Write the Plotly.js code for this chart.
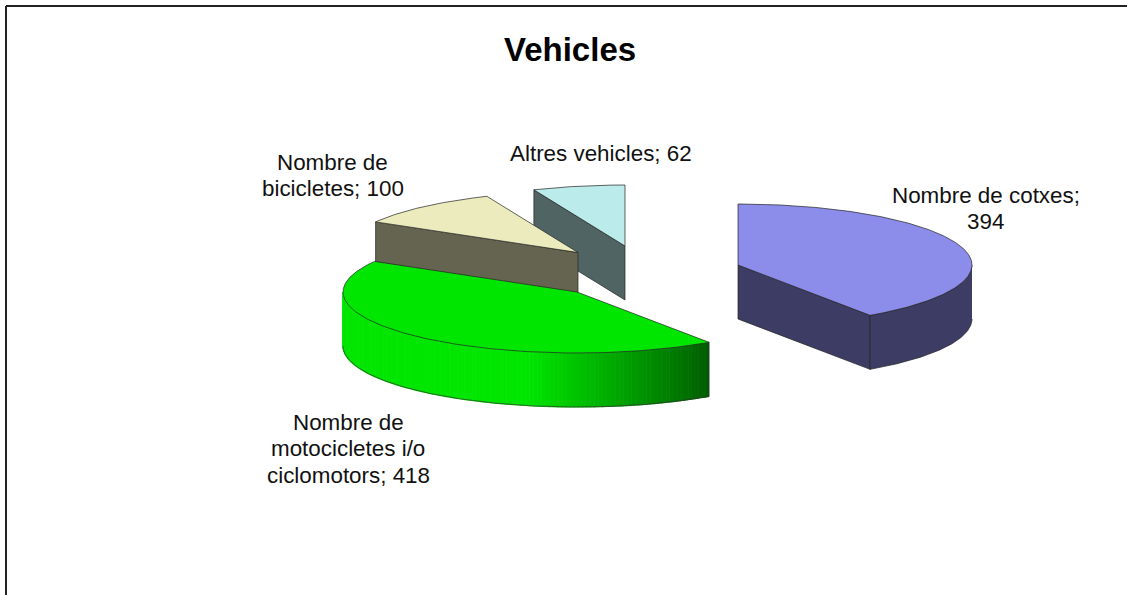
<!DOCTYPE html>
<html><head><meta charset="utf-8">
<script src="https://cdn.plot.ly/plotly-3.0.1.min.js"></script>
<style>html,body{margin:0;padding:0;background:#fff}#c{width:1127px;height:595px}</style>
</head><body><div id="c"></div>
<script>
// Data
var categories = ["Nombre de cotxes", "Nombre de motocicletes i/o ciclomotors", "Nombre de bicicletes", "Altres vehicles"];
var values = [394, 418, 100, 62];
var labelLines = [["Nombre de cotxes;", "394"], ["Nombre de", "motocicletes i/o", "ciclomotors; 418"], ["Nombre de", "bicicletes; 100"], ["Altres vehicles; 62"]];
var topColors = ["#8c8ceb", "#00e600", "#ebebbe", "#bcebeb"];
var sideColors = ["#3c3c64", "#00e600", "#646450", "#506464"];
var chartTitle = "Vehicles";

// Layout of the drawing (projected pie on pixel-scaled axes)
var rx = 234, ry = 61, depth = 54;
var centers = [[738, 265], [577, 292], [578, 252.5], [625, 246]];
var labelPos = [[985.5, 195], [348, 422], [332.5, 162], [601, 153]];
var lineGap = 26.5;
var fontFamily = "Liberation Sans, Arial, sans-serif";

var total = values.reduce(function (a, b) { return a + b; }, 0);
var traces = [];
// angle measured clockwise from 12 o'clock, screen y grows downward
function pt(c, deg, dz) {
  var r = deg * Math.PI / 180;
  return [c[0] + rx * Math.sin(r), c[1] - ry * Math.cos(r) + (dz || 0)];
}
function poly(pts, fill, line, width) {
  traces.push({
    type: "scatter", mode: "lines", x: pts.map(function (p) { return p[0]; }), y: pts.map(function (p) { return p[1]; }),
    fill: "toself", fillcolor: fill, line: { color: line || "#222", width: width || 0.7 }, hoverinfo: "skip", showlegend: false
  });
}
function stroke(pts) {
  traces.push({
    type: "scatter", mode: "lines", x: pts.map(function (p) { return p[0]; }), y: pts.map(function (p) { return p[1]; }),
    line: { color: "#333", width: 0.7 }, hoverinfo: "skip", showlegend: false
  });
}
function arc(c, a0, a1, dz) {
  var out = [], n = Math.max(2, Math.ceil(Math.abs(a1 - a0) * 2));
  for (var i = 0; i <= n; i++) out.push(pt(c, a0 + (a1 - a0) * i / n, dz));
  return out;
}
// Wall shading: dark green at the right cut, full green from the middle of the wall leftwards
function wallGreen(x, xRight) {
  var f = Math.min(1, (xRight - x) / 180);
  return "rgb(0," + Math.round(92 + 138 * Math.pow(f, 0.9)) + ",0)";
}
var angles = [], acc = 0;
values.forEach(function (v) { angles.push([acc, acc + v / total * 360]); acc += v / total * 360; });

// Painter's order: back slices first
[3, 2, 0, 1].forEach(function (i) {
  var c = centers[i], a0 = angles[i][0], a1 = angles[i][1];
  if (i === 3 || i === 2) { // cut wall facing the viewer
    poly([c, pt(c, a0), pt(c, a0, depth), [c[0], c[1] + depth], c], sideColors[i]);
  }
  if (i === 0) {
    poly([c, pt(c, a1), pt(c, a1, depth), [c[0], c[1] + depth], c], sideColors[i]);
    poly(arc(c, 90, a1).concat(arc(c, a1, 90, depth)), sideColors[i]);
  }
  if (i === 1) {
    var step = 1, xRight = pt(c, a0)[0];
    for (var a = a0; a < 270; a += step) {
      var b = Math.min(a + step, 270);
      var col = wallGreen(pt(c, a)[0], xRight);
      poly(arc(c, a, b).concat(arc(c, b, a, depth)), col, col, 1.2);
    }
    stroke(arc(c, a0, 270, depth));
    stroke([pt(c, a0), pt(c, a0, depth)]);
  }
  poly([c].concat(arc(c, a0, a1)).concat([c]), topColors[i]);
});

var annotations = [{
  text: "<b>" + chartTitle + "</b>", x: 569.5, y: 49, xref: "x", yref: "y", showarrow: false,
  font: { family: fontFamily, size: 33, color: "#000" }, xanchor: "center", yanchor: "middle"
}];
labelLines.forEach(function (lines, i) {
  lines.forEach(function (line, k) {
    annotations.push({
      text: line, x: labelPos[i][0], y: labelPos[i][1] + k * lineGap, xref: "x", yref: "y", showarrow: false,
      font: { family: fontFamily, size: 22.4, color: "#111" }, xanchor: "center", yanchor: "middle"
    });
  });
});

var layout = {
  width: 1127, height: 595, margin: { l: 0, r: 0, t: 0, b: 0 }, paper_bgcolor: "#fff", plot_bgcolor: "#fff", showlegend: false,
  xaxis: { range: [0, 1127], visible: false, fixedrange: true },
  yaxis: { range: [595, 0], visible: false, fixedrange: true },
  annotations: annotations,
  shapes: [
    { type: "line", xref: "x", yref: "y", x0: 6, y0: 6, x1: 1127, y1: 6, line: { color: "#222", width: 2 } },
    { type: "line", xref: "x", yref: "y", x0: 6, y0: 6, x1: 6, y1: 595, line: { color: "#222", width: 2 } }
  ]
};
Plotly.newPlot("c", traces, layout, { displayModeBar: false, staticPlot: true });
</script></body></html>
